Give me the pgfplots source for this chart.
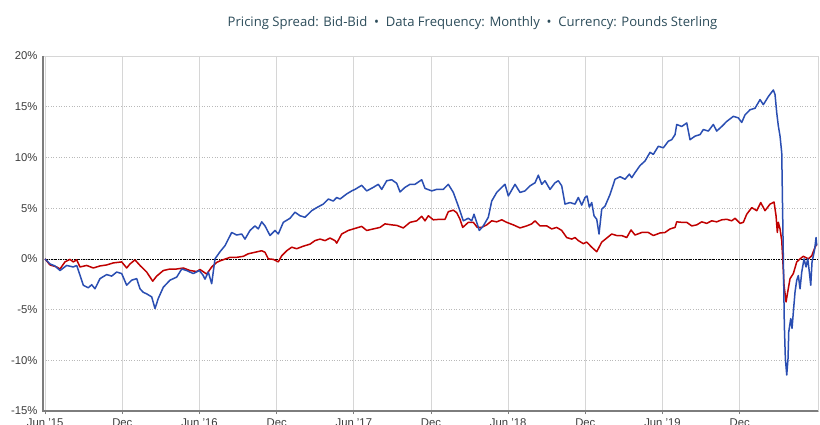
\documentclass[border=0pt]{standalone}
\usepackage{pgfplots}
\usepackage{pgfplotstable}
\pgfplotsset{compat=1.18}
\usepackage{fontspec}
\setmainfont{Liberation Sans}
\newfontfamily\titlefont{Open Sans}
\definecolor{bluel}{RGB}{42,78,178}
\definecolor{redl}{RGB}{192,0,0}
\definecolor{titlec}{RGB}{44,76,90}
\definecolor{axisc}{RGB}{125,125,125}
\definecolor{gridc}{RGB}{214,214,214}
\definecolor{tickc}{RGB}{60,60,60}
% x values: horizontal position in the chart (px), converted to months since Jun 2015
\pgfplotstableread{
x y
45 0
50 -0.5
55 -0.7
60 -1.15
66.7 -0.65
73.3 -0.8
76.7 -0.65
80 -1.6
83.3 -2.6
88.3 -2.85
91.7 -2.55
95 -2.95
100 -1.95
106.7 -1.55
111.7 -1.7
116.7 -1.3
121.7 -1.45
126.7 -2.6
131.7 -2.1
136.7 -1.95
140 -2.95
143.3 -3.3
146.7 -3.45
151.7 -3.75
155 -4.9
158.3 -3.9
163.3 -2.8
170 -2.1
176.7 -1.8
181.7 -1.0
186.7 -1.15
193.3 -1.45
199.3 -1.15
203 -1.6
205 -2.0
208.3 -1.3
211.7 -2.45
215 0
220 0.7
225 1.3
231.7 2.6
236.7 2.35
241.7 2.45
245 1.95
250 2.8
255 3.25
258.3 2.95
261.7 3.65
265 3.25
270 2.3
275 2.8
278.3 2.45
283.3 3.6
290 4.0
295 4.6
300 4.25
305 4.1
311.7 4.75
316.7 5.05
323.3 5.4
328.3 5.9
333.3 5.7
336.7 6.05
340 5.9
346.7 6.4
351.7 6.7
355 6.85
361.7 7.25
366.7 6.7
373.3 7.05
378.3 7.35
381.7 6.85
386.7 7.7
391.7 7.8
396.7 7.45
400 6.6
405 7.05
410 7.35
415 7.35
421.7 7.8
425 6.95
431.7 6.7
436.7 6.85
443.3 6.85
448.3 7.35
453.3 6.55
458.3 5.2
463.3 3.75
468.3 4.0
471.7 3.75
474 4.4
476.7 3.6
479.3 2.8
483.3 3.25
488.3 4.1
491.7 5.7
496.7 6.55
501.7 7.05
505 7.35
508.3 6.2
515 7.35
520 6.55
525 6.7
530 7.2
535 7.5
538.3 8.25
541.7 7.35
545 7.7
550 6.85
555 7.5
558.3 7.7
561.7 7.2
565 5.4
570 5.55
575 5.4
578.3 6.05
581.7 5.3
585 6.05
587 6.2
589.3 5.1
591.7 5.55
594 4.25
596.7 3.9
599 2.45
601.7 4.9
605 5.2
610 6.35
615 7.85
620 8.1
625 7.85
629.3 8.35
631.7 8.0
635 8.5
640 9.2
645 9.65
650 10.5
653.3 10.3
658.3 11.1
663.3 10.95
668.3 11.6
671.7 11.75
675 12.25
676.7 13.25
681.7 13.05
686.7 13.4
690 11.75
695 12.1
700 12.25
703.3 12.75
708.3 12.6
713.3 13.25
716.7 12.6
721.7 13.05
726.7 13.55
733.3 14.05
738.3 13.9
741.7 13.45
745 14.2
750 14.7
755 14.85
760 15.7
763.3 15.2
768.3 16.0
773.3 16.65
775 16.2
776.7 14.4
778.3 13.1
780 12.1
781.7 10.45
782.3 6.55
783.3 0
784.3 -6.55
785.3 -9.8
786.7 -11.45
788 -9.8
788.7 -7.2
790.7 -5.9
792 -6.85
793.3 -5.25
795 -3.25
796.7 -2.1
798.3 -1.65
800 -2.95
801.7 -1.3
804 0
806 -0.8
807.7 0
809.3 -1.3
810.7 -2.6
812 -0.3
813.3 0.3
814.7 1.0
816 2.1
816.7 1.3
}\blueseries
\pgfplotstableread{
x y
45 0
50 -0.6
56.7 -0.8
60 -1.0
65 -0.3
70 -0.05
73.3 -0.3
76.7 -0.1
80 -0.8
86.7 -0.65
93.3 -0.9
100 -0.7
106.7 -0.6
113.3 -0.4
121.7 -0.3
126.7 -0.9
130 -0.5
135 -0.1
140 -0.65
146.7 -1.3
152.7 -2.2
156.7 -1.7
163.3 -1.15
170 -1.0
176.7 -1.0
183.3 -0.9
190 -1.15
196.7 -1.25
200 -1.05
206.7 -1.5
211.7 -0.8
216.7 -0.35
220 -0.2
230 0.15
236.7 0.15
243.3 0.25
248.3 0.5
255 0.65
261.7 0.8
265 0.65
268.3 0
273.3 -0.05
278.3 -0.3
281.7 0.3
286.7 0.8
291.7 1.15
296.7 1.0
303.3 1.25
310 1.45
315 1.8
320 1.95
325 1.8
330 2.05
335 1.8
336.7 1.55
341.7 2.45
348.3 2.8
355 3.0
361.7 3.2
366.7 2.8
373.3 2.95
380 3.1
385 3.45
391.7 3.35
396.7 3.3
403.3 3.05
410 3.6
416.7 3.75
421.7 4.2
425 3.75
428.3 4.25
433.3 3.85
440 3.9
445 3.9
448.3 4.65
453.3 4.8
456.7 4.55
460 3.9
462.7 3.1
468.3 3.6
473.3 3.6
477.3 3.1
481.7 3.1
486.7 3.35
491.7 3.75
496.7 3.65
501.7 3.85
506.7 3.6
513.3 3.35
520 3.05
526.7 3.25
531.7 3.45
535 3.75
540 3.25
546.7 3.25
551.7 2.95
556.7 3.1
561.7 2.8
566.7 2.1
571.7 1.95
575 2.1
578.3 1.8
583.3 1.5
586.7 1.65
591.7 1.15
596.7 0.7
601.7 1.65
606.7 2.05
611.7 2.45
616.7 2.3
621.7 2.3
626.7 2.1
631 2.85
635 2.35
641.7 2.6
648.3 2.6
653.3 2.3
660 2.55
665 2.6
670 2.95
675 3.1
676.7 3.65
681.7 3.6
686.7 3.6
691.7 3.25
696.7 3.35
701.7 3.65
706.7 3.5
711.7 3.75
716.7 3.65
721.7 3.85
726.7 3.9
731.7 3.75
735 4.0
740 3.5
743.3 3.6
746.7 4.4
751.7 5.05
756.7 4.75
760.7 5.55
765 4.75
770 5.4
774 5.6
776 4.25
777.3 2.6
778.3 3.6
780 2.95
781.7 1.8
782.7 0
784 -2.6
786 -4.25
787.7 -3.25
790 -1.95
793.3 -1.45
796.7 -0.3
800 0
803.3 0.25
808.3 0
811.7 0.3
815 1.15
816.7 1.45
}\redseries
\begin{document}
\begin{tikzpicture}
\fill[white] (0,0) rectangle (820pt,424pt);
\begin{axis}[
  at={(43pt,13pt)}, anchor=south west,
  scale only axis, width=775pt, height=355pt,
  xmin=-0.17, xmax=60.09, ymin=-15, ymax=20,
  xtick={0,6,...,54},
  xticklabels={Jun '15,Dec,Jun '16,Dec,Jun '17,Dec,Jun '18,Dec,Jun '19,Dec},
  ytick={-15,-10,...,20},
  yticklabels={-15\%,-10\%,-5\%,0\%,5\%,10\%,15\%,20\%},
  tick label style={font=\fontsize{11.3}{13}\selectfont, text=tickc},
  yticklabel style={xshift=-2pt},
  xticklabel style={yshift=-1pt},
  tick pos=left,
  xtick align=outside,
  major tick length=3pt,
  xtick style={draw=axisc, line width=0.8pt},
  ytick style={draw=none},
  xmajorgrids, ymajorgrids,
  x grid style={gridc, line width=0.8pt},
  y grid style={gray!55, line width=0.6pt, dotted},
  axis line style={draw=none},
  clip=true,
]
\addplot[black, line width=0.6pt, dash pattern=on 2pt off 1pt on 0.6pt off 1pt, forget plot] coordinates {(-1,0) (61,0)};
\addplot[redl, line width=1.5pt, line join=round] table[x expr={(\thisrow{x}-45.2)/12.86}, y=y] {\redseries};
\addplot[bluel, line width=1.5pt, line join=round] table[x expr={(\thisrow{x}-45.2)/12.86}, y=y] {\blueseries};
\end{axis}
\draw[gridc, line width=0.8pt] (43pt,368pt) -- (818pt,368pt) -- (818pt,13pt);
\draw[axisc, line width=1.6pt] (43pt,368pt) -- (43pt,13pt) -- (818pt,13pt);
\node[anchor=base, font=\titlefont\fontsize{13.1}{15}\selectfont, text=titlec] at (472.5pt,397.5pt)
  {Pricing Spread: Bid-Bid\ \ \textbullet\ \ Data Frequency: Monthly\ \ \textbullet\ \ Currency: Pounds Sterling};
\pgfresetboundingbox
\path[use as bounding box] (0,0) rectangle (820pt,424pt);
\end{tikzpicture}
\end{document}
